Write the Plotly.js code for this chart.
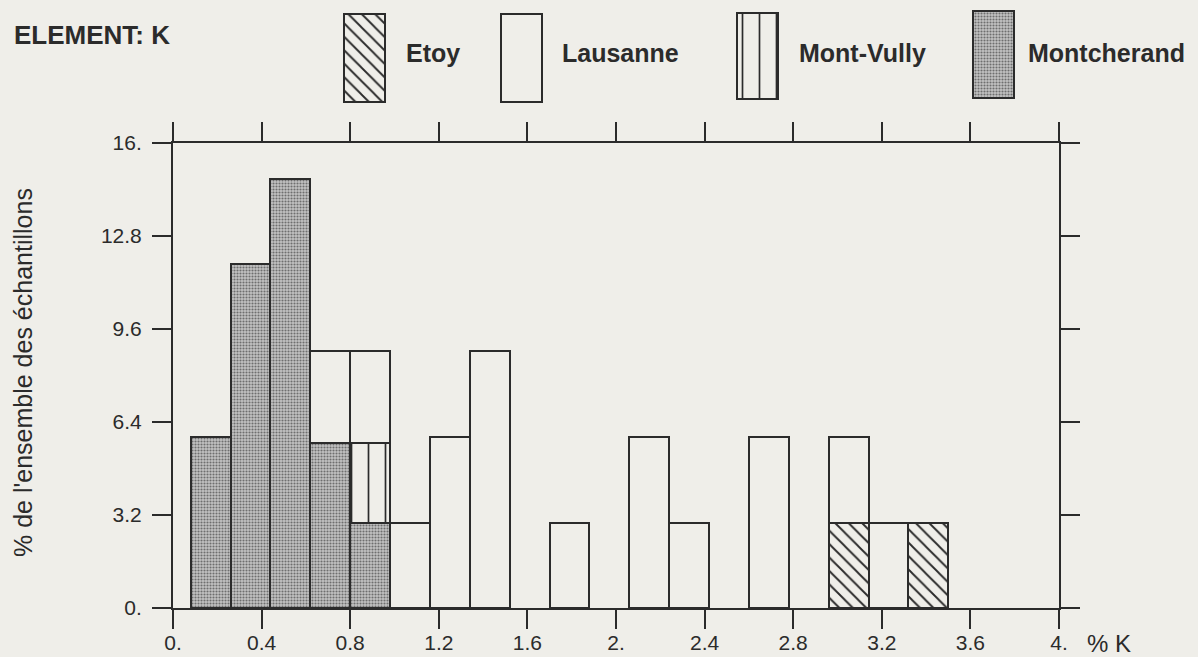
<!DOCTYPE html>
<html><head><meta charset="utf-8">
<script src="https://cdn.plot.ly/plotly-3.0.1.min.js"></script>
<style>html,body{margin:0;padding:0;background:#efeee9;}#chart{width:1198px;height:657px;}</style>
</head><body><div id="chart"></div>
<script>
// ---- data ----
const binStart = [0.08,0.26,0.44,0.62,0.80,0.98,1.16,1.34,1.52,1.70,1.88,2.06,2.24,2.42,2.60,2.78,2.96,3.14,3.32];
const binWidth = 0.18;
const montcherand = [5.9,11.84,14.75,5.69,2.93,0,0,0,0,0,0,0,0,0,0,0,0,0,0];
const etoy        = [0,0,0,0,0,0,0,0,0,0,0,0,0,0,0,0,2.93,0,2.93];
const montVully   = [0,0,0,0,2.76,0,0,0,0,0,0,0,0,0,0,0,0,0,0];
const lausanne    = [0,0,0,3.17,3.17,2.93,5.9,8.86,0,2.93,0,5.9,2.93,0,5.9,0,2.97,2.93,0];
const xTickVals = [0,0.4,0.8,1.2,1.6,2.0,2.4,2.8,3.2,3.6,4.0];
const xTickText = ['0.','0.4','0.8','1.2','1.6','2.','2.4','2.8','3.2','3.6','4.'];
const yTickVals = [0,3.2,6.4,9.6,12.8,16];
const yTickText = ['0.','3.2','6.4','9.6','12.8','16.'];
const chartTitle = 'ELEMENT:\u00a0K';
const yTitle = "% de l'ensemble des échantillons";
const xTitle = '% K';

// ---- styles / layout geometry (pixels) ----
const W = 1198, H = 657;
const M = {l:173, r:139, t:0, b:49};
const PW = W - M.l - M.r, PH = H - M.t - M.b;
const px = p => (p - M.l) / PW;
const py = p => (PH - p) / PH;
const ink = '#2b2b2b';
const bg = '#efeee9';
const FONT = 'Liberation Sans, Arial, Helvetica, sans-serif';
const styles = {
  Etoy:        {color:'rgba(0,0,0,0)', pattern:{shape:'\\', fgcolor:ink, bgcolor:'rgba(0,0,0,0)', size:9.5, solidity:0.2}},
  Lausanne:    {color:'rgba(0,0,0,0)'},
  'Mont-Vully':{color:'rgba(0,0,0,0)', pattern:{shape:'|', fgcolor:ink, bgcolor:'rgba(0,0,0,0)', size:17, solidity:0.1}},
  Montcherand: {color:'#a9a9a9', pattern:{shape:'.', fgcolor:'#6e6e6e', bgcolor:'#c2c2c2', size:3, solidity:0.4}}
};
const legendBoxes = {
  Etoy:        {left:344, top:14, bottom:102, textX:404},
  Lausanne:    {left:501, top:14, bottom:102, textX:560},
  'Mont-Vully':{left:737, top:13, bottom:99,  textX:797},
  Montcherand: {left:973, top:11, bottom:98,  textX:1026}
};
const boxW = 41;

const nz = a => a.map(v => v === 0 ? null : v);
function barTrace(name, vals){
  return {type:'bar', name:name, x:binStart, y:nz(vals), width:binWidth, offset:0,
    marker:Object.assign({line:{color:ink, width:2}}, JSON.parse(JSON.stringify(styles[name]))),
    showlegend:false, hoverinfo:'x+y+name'};
}
const traces = [
  barTrace('Montcherand', montcherand),
  barTrace('Etoy', etoy),
  barTrace('Mont-Vully', montVully),
  barTrace('Lausanne', lausanne)
];
// legend swatches on an auxiliary pixel axis
const annotations = [];
['Etoy','Lausanne','Mont-Vully','Montcherand'].forEach(n => {
  const b = legendBoxes[n];
  traces.push({type:'bar', xaxis:'x2', yaxis:'y2', x:[b.left + boxW/2], y:[b.top - b.bottom], base:[b.bottom],
    width:boxW, marker:Object.assign({line:{color:ink, width:2}}, JSON.parse(JSON.stringify(styles[n]))),
    showlegend:false, hoverinfo:'skip'});
  annotations.push({xref:'paper', yref:'paper', x:px(b.textX), y:py(53), xanchor:'left', yanchor:'middle',
    text:'<b>'+n+'</b>', showarrow:false, font:{family:FONT, size:25, color:ink}});
});
annotations.push({xref:'paper', yref:'paper', x:px(12), y:py(35), xanchor:'left', yanchor:'middle',
  text:'<b>'+chartTitle+'</b>', showarrow:false, font:{family:FONT, size:26, color:ink}});
annotations.push({xref:'paper', yref:'paper', x:px(23), y:py(373), xanchor:'center', yanchor:'middle',
  text:yTitle, textangle:-90, showarrow:false, font:{family:FONT, size:25, color:ink}});
annotations.push({xref:'paper', yref:'paper', x:px(1085), y:py(643), xanchor:'left', yanchor:'middle',
  text:xTitle, showarrow:false, font:{family:FONT, size:24, color:ink}});

const axisStyle = {ticks:'outside', ticklen:19, tickwidth:2, tickcolor:ink, showline:true, linecolor:ink, linewidth:2,
  mirror:'ticks', showgrid:false, zeroline:false, fixedrange:true, tickfont:{family:FONT, size:21, color:ink}};
const layout = {
  width:W, height:H, margin:{l:M.l, r:M.r, t:M.t, b:M.b, pad:0},
  paper_bgcolor:bg, plot_bgcolor:bg, barmode:'stack', showlegend:false,
  xaxis:Object.assign({range:[0,4], tickmode:'array', tickvals:xTickVals, ticktext:xTickText, ticklabelstandoff:-4}, axisStyle),
  yaxis:Object.assign({range:[0,16], domain:[0, py(143)], tickmode:'array', tickvals:yTickVals, ticktext:yTickText, ticklabelstandoff:6}, axisStyle),
  xaxis2:{domain:[0,1], range:[M.l, W - M.r], visible:false, anchor:'y2', fixedrange:true},
  yaxis2:{domain:[py(105), 1], range:[105, 0], visible:false, anchor:'x2', fixedrange:true},
  annotations:annotations
};
Plotly.newPlot('chart', traces, layout, {displayModeBar:false, staticPlot:true});
</script>
</body></html>
